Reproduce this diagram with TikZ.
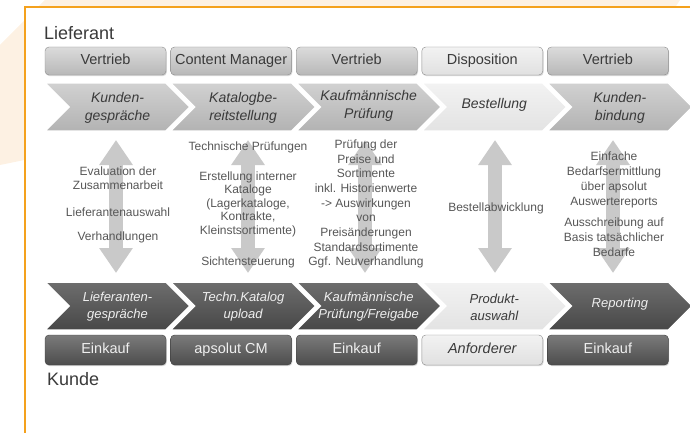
\documentclass[tikz,border=0pt]{standalone}
\usepackage{fontspec}
\setmainfont{Liberation Sans}
\usepackage{tikz}
\usetikzlibrary{arrows.meta,shadows,positioning}
\definecolor{frameorange}{HTML}{F4A11D}
\definecolor{peach}{HTML}{FDF1E3}
\definecolor{arrowgray}{HTML}{C9C9C9}
\definecolor{midtext}{HTML}{575757}
\definecolor{darktext}{HTML}{3A3A3A}
\definecolor{lighttext}{HTML}{EFEFEF}

\begin{document}
\begin{tikzpicture}[x=1pt, y=-1pt,
  rolebox/.style = {draw=black!45, rounded corners=4pt, minimum width=121pt, minimum height=28pt, inner sep=0pt,
                    text height=10.5pt, text depth=3pt,
                    top color=black!14, bottom color=black!28, text=darktext, font=\fontsize{14.5}{16}\selectfont,
                    drop shadow={opacity=0.3, shadow xshift=0.8pt, shadow yshift=-1.2pt}},
  rolepale/.style = {rolebox, top color=black!5, bottom color=black!12},
  roledark/.style = {rolebox, draw=black!75, minimum height=30pt, top color=black!52, bottom color=black!70, text=lighttext},
  chevmid/.style = {draw=white, line width=1.5pt, top color=black!18, bottom color=black!30},
  chevpale/.style = {draw=white, line width=1.5pt, top color=black!5, bottom color=black!11},
  chevdark/.style = {draw=white, line width=1.5pt, top color=black!57, bottom color=black!72},
  chevtxt/.style = {align=center, inner sep=0pt, text=darktext, font=\itshape\fontsize{14}{18}\selectfont},
  chevtxtlow/.style = {chevtxt, text=lighttext, font=\itshape\fontsize{13}{17}\selectfont},
  midtxt/.style = {align=center, inner sep=0pt, text=midtext, font=\fontsize{12}{13.5}\selectfont},
  dblarrow/.style = {draw=arrowgray, line width=14pt, >={Triangle[width=32pt,length=25pt]}, <->},
  ]
\useasboundingbox (0,0) rectangle (690,433);

% frame
\fill[peach] (0,45) -- (45,0) -- (680,0) -- (660,30) -- (0,165) -- cycle;
\fill[white] (25,7) rectangle (690,433);
\draw[frameorange, line width=2pt] (25,433) -- (25,7) -- (690,7);

\node[anchor=west, inner sep=0pt, text=darktext, font=\fontsize{18}{20}\selectfont] (lief) at (44,33) {Lieferant};
\node[anchor=west, inner sep=0pt, text=darktext, font=\fontsize{18}{20}\selectfont] (kunde) at (47,379) {Kunde};

% Rollen Lieferant
\node[rolebox] (r1) at (105.5,61) {Vertrieb};
\node[rolebox] (r2) at (231.1,61) {Content Manager};
\node[rolebox] (r3) at (356.7,61) {Vertrieb};
\node[rolepale] (r4) at (482.3,61) {Disposition};
\node[rolebox] (r5) at (607.9,61) {Vertrieb};

% Prozesskette oben und unten
\foreach \i/\c in {0/chevmid,1/chevmid,2/chevmid,3/chevpale,4/chevmid}
  \path[\c] ({45+125.6*\i},83) -- ++(121,0) -- ++(24,24) -- ++(-24,24) -- ++(-121,0) -- ++(24,-24) -- cycle;
\foreach \i/\c in {0/chevdark,1/chevdark,2/chevdark,3/chevpale,4/chevdark}
  \path[\c] ({45+125.6*\i},282) -- ++(121,0) -- ++(24,24) -- ++(-24,24) -- ++(-121,0) -- ++(24,-24) -- cycle;

\node[chevtxt] (k1) at (117.5,108) {Kunden-\\gespräche};
\node[chevtxt] (k2) at (243.1,108) {Katalogbe-\\reitstellung};
\node[chevtxt] (k3) at (368.7,106) {Kaufmännische\\Prüfung};
\node[chevtxt] (k4) at (494.3,105) {Bestellung};
\node[chevtxt] (k5) at (619.9,108) {Kunden-\\bindung};

\node[chevtxtlow] (l1) at (117.5,307) {Lieferanten-\\gespräche};
\node[chevtxtlow] (l2) at (243.1,307) {Techn.Katalog\\upload};
\node[chevtxtlow] (l3) at (368.7,307) {Kaufmännische\\Prüfung/Freigabe};
\node[chevtxtlow, text=darktext] (l4) at (494.3,307) {Produkt-\\auswahl};
\node[chevtxtlow] (l5) at (619.9,304) {Reporting};

% Rollen Kunde
\node[roledark] (e1) at (105.5,350) {Einkauf};
\node[roledark] (e2) at (231.1,350) {apsolut CM};
\node[roledark] (e3) at (356.7,350) {Einkauf};
\node[rolepale, minimum height=30pt, font=\itshape\fontsize{14.5}{16}\selectfont] (e4) at (482.3,350) {Anforderer};
\node[roledark] (e5) at (607.9,350) {Einkauf};

% Doppelpfeile
\foreach \n/\x in {1/116,2/248,3/365,4/495,5/613} {
  \coordinate (a\n) at (\x,140);
  \coordinate (b\n) at (\x,273);
  \draw[dblarrow] (a\n) -- (b\n);
}

% Aufgaben
\node[midtxt] (m1a) at (118,178) {Evaluation der\\Zusammenarbeit};
\node[midtxt] (m1b) at (118,212) {Lieferantenauswahl};
\node[midtxt] (m1c) at (118,237) {Verhandlungen};

\node[midtxt] (m2a) at (248,147) {Technische Prüfungen};
\node[midtxt] (m2b) at (248,204) {Erstellung interner\\Kataloge\\(Lagerkataloge,\\Kontrakte,\\Kleinstsortimente)};
\node[midtxt] (m2c) at (248,262) {Sichtensteuerung};

\node[midtxt, font=\fontsize{12}{14.7}\selectfont] (m3) at (366,204) {Prüfung der\\Preise und\\Sortimente\\inkl. Historienwerte\\-> Auswirkungen\\von\\Preisänderungen\\Standardsortimente\\Ggf. Neuverhandlung};

\node[midtxt] (m4) at (496,208) {Bestellabwicklung};

\node[midtxt, font=\fontsize{12}{15}\selectfont] (m5a) at (614,180) {Einfache\\Bedarfsermittlung\\über apsolut\\Auswertereports};
\node[midtxt, font=\fontsize{12}{15}\selectfont] (m5b) at (614,237) {Ausschreibung auf\\Basis tatsächlicher\\Bedarfe};
\end{tikzpicture}
\end{document}
